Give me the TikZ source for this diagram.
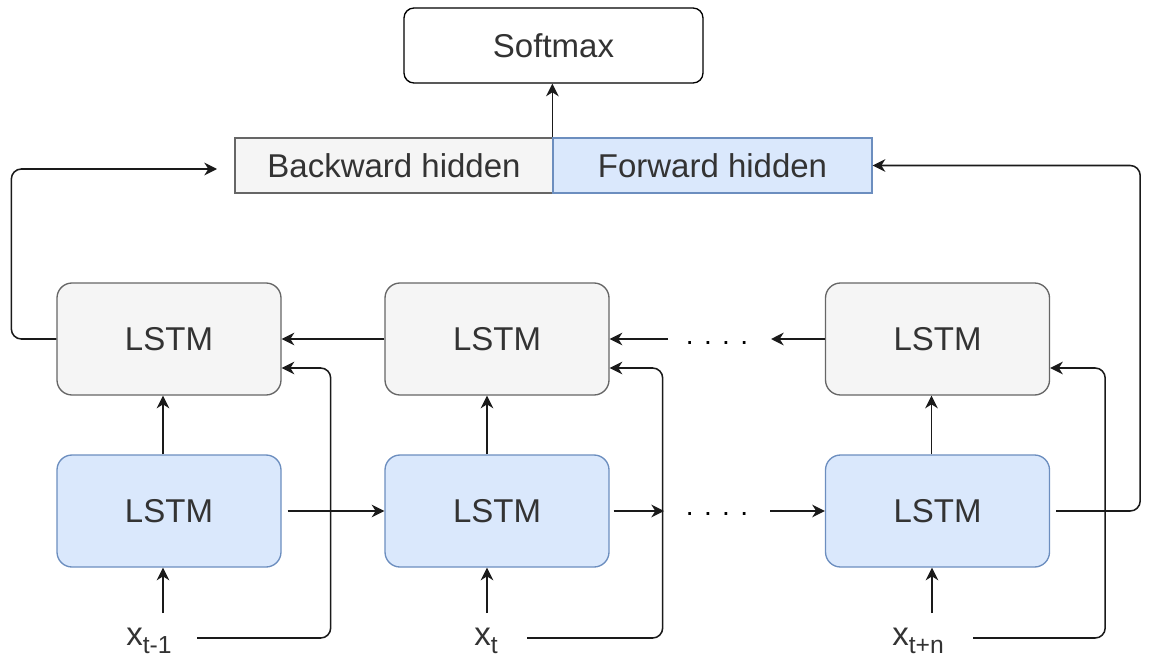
\documentclass[tikz,border=0pt]{standalone}
\usepackage{fontspec}
\setmainfont{Liberation Sans}
\usetikzlibrary{arrows.meta,calc}
\definecolor{grayfill}{HTML}{F5F5F5}
\definecolor{graystroke}{HTML}{666666}
\definecolor{bluefill}{HTML}{DAE8FC}
\definecolor{bluestroke}{HTML}{6C8EBF}
\definecolor{txt}{HTML}{333333}
\definecolor{wire}{HTML}{1A1A1A}
% lowered, smaller index for the input labels
\newcommand\lowidx[1]{\raisebox{-6pt}{\fontsize{18.5}{20}\selectfont #1}}

\begin{document}
\begin{tikzpicture}[x=0.75pt,y=-0.75pt,
  every node/.style={text=txt},
  font=\fontsize{24.75}{29}\selectfont,
  cell/.style={draw, line width=1pt, rounded corners=11.25pt,
    minimum width=168pt, minimum height=84pt, inner sep=0pt},
  bwd/.style={cell, fill=grayfill, draw=graystroke},
  fwd/.style={cell, fill=bluefill, draw=bluestroke},
  hid/.style={draw, line width=1pt, minimum height=41.25pt, inner sep=0pt},
  arr/.style={draw=wire, line width=1.15pt, rounded corners=7.5pt,
    -{Stealth[length=9.5pt,width=9.5pt,inset=3pt]}},
  dots/.style={font=\fontsize{21}{24}\selectfont, text=black, anchor=base, inner sep=0pt},
  inlabel/.style={anchor=base west, inner sep=0pt}
]
\useasboundingbox (0,0) rectangle (1151,656);

% output layer
\node[draw=black, line width=1pt, rounded corners=7.5pt, fill=white,
      minimum width=224.25pt, minimum height=56.25pt, inner sep=0pt]
  (sm) at (553.5,45.5) {Softmax};

% concatenated hidden state
\node[hid, fill=grayfill, draw=graystroke, minimum width=238.5pt]
  (bh) at (394,165.5) {Backward hidden};
\node[hid, fill=bluefill, draw=bluestroke, minimum width=239.25pt]
  (fh) at (712.5,165.5) {Forward hidden};

% backward LSTM row
\node[bwd] (g1) at (169,339) {LSTM};
\node[bwd] (g2) at (497,339) {LSTM};
\node[bwd] (g3) at (937.5,339) {LSTM};

% forward LSTM row
\node[fwd] (b1) at (169,511) {LSTM};
\node[fwd] (b2) at (497,511) {LSTM};
\node[fwd] (b3) at (937.5,511) {LSTM};

% inputs
\node[inlabel] (x1) at (126,645) {x\lowidx{t-1}};
\node[inlabel] (x2) at (474,645) {x\lowidx{t}};
\node[inlabel] (x3) at (892,645) {x\lowidx{t+n}};

% ellipses between the known cells
\node[dots] (d1) at (717,344.5) {. . . .};
\node[dots] (d2) at (717,515.5) {. . . .};

% free ends of the connectors
\coordinate (u1) at (163,613);
\coordinate (u2) at (487,613);
\coordinate (u3) at (932,613);
\coordinate (s1) at (197,638);
\coordinate (s2) at (527,638);
\coordinate (s3) at (973,638);
\coordinate (gd1) at (668,339);
\coordinate (gd2) at (771,339);
\coordinate (bd1) at (664,511);
\coordinate (bd2) at (770,511);
\coordinate (bin) at (217,169);

% hidden state to softmax
\draw[arr] (fh.north west) -- (fh.north west |- sm.south);

% inputs into the forward cells
\draw[arr] (u1) -- (u1 |- b1.south);
\draw[arr] (u2) -- (u2 |- b2.south);
\draw[arr] (u3) -- (u3 |- b3.south);

% forward cells into backward cells
\draw[arr] ([xshift=-4.5pt]b1.north) -- ([xshift=-4.5pt]g1.south);
\draw[arr] ([xshift=-7.5pt]b2.north) -- ([xshift=-7.5pt]g2.south);
\draw[arr] ([xshift=-4.5pt]b3.north) -- ([xshift=-4.5pt]g3.south);

% backward recurrence
\draw[arr] (g2.west) -- (g1.east);
\draw[arr] (gd1) -- (g2.east);
\draw[arr] (g3.west) -- (gd2);

% forward recurrence
\draw[arr] ([xshift=4.5pt]b1.east) -- (b2.west);
\draw[arr] ([xshift=3pt]b2.east) -- (bd1);
\draw[arr] (bd2) -- (b3.west);

% inputs routed to the backward cells
\draw[arr] (s1) -| ($(g1.east)+(49,29)$) -- ([yshift=-21.75pt]g1.east);
\draw[arr] (s2) -| ($(g2.east)+(53,29)$) -- ([yshift=-21.75pt]g2.east);
\draw[arr] (s3) -| ($(g3.east)+(55,29)$) -- ([yshift=-21.75pt]g3.east);

% final states into the hidden layer
\draw[arr] (g1.west) -- ++(-45,0) |- (bin);
\draw[arr] ([xshift=4.5pt]b3.east) -- ++(84,0) |- (fh.east);
\end{tikzpicture}
\end{document}
